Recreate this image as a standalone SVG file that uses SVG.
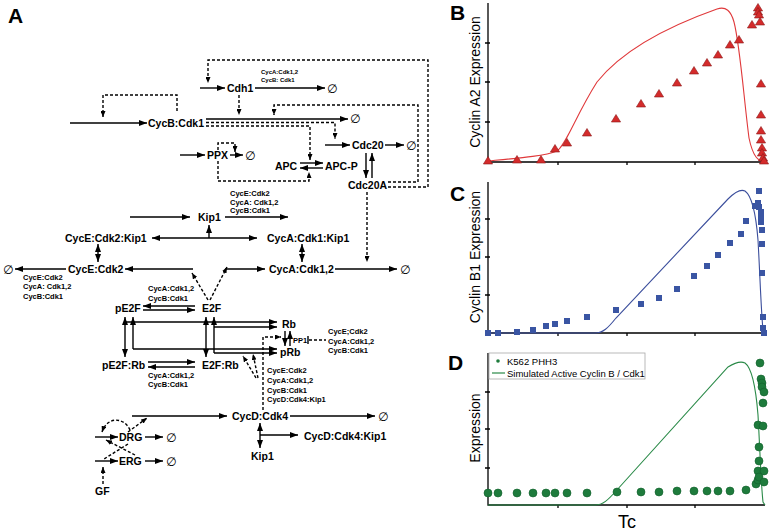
<svg xmlns="http://www.w3.org/2000/svg" xmlns:xlink="http://www.w3.org/1999/xlink" width="772" height="532" viewBox="0 0 772 532">
<style>
text{font-family:"Liberation Sans",Arial,"DejaVu Sans",sans-serif;fill:#000}
.n{font-size:10.5px;font-weight:bold}
.s{font-size:7.5px;font-weight:bold}
.xs{font-size:6px;font-weight:bold}
.e{font-size:12px}
.P{font-size:21px;font-weight:bold}
.yl{font-size:14px;text-anchor:middle}
.lg{font-size:9.5px}
.c path,.c line{fill:none;stroke:#000;stroke-width:1.4}
.c .d{stroke-dasharray:3 2}
.ar{marker-end:url(#a)}
.da{marker-end:url(#b)}
.bi{marker-start:url(#a);marker-end:url(#a)}
.ax{stroke:#000;stroke-width:1.3;fill:none}
</style>
<defs>
<marker id="a" viewBox="0 0 8 6" refX="8" refY="3" markerWidth="8" markerHeight="6" markerUnits="userSpaceOnUse" orient="auto-start-reverse"><path d="M0,0L8,3L0,6z" fill="#000"/></marker>
<marker id="b" viewBox="0 0 6 5" refX="6" refY="2.5" markerWidth="6" markerHeight="5" markerUnits="userSpaceOnUse" orient="auto-start-reverse"><path d="M0,0L6,2.5L0,5z" fill="#000"/></marker>
<path id="tri" d="M0,-4.5L4.6,3L-4.6,3Z" fill="#d42b2b" stroke="#8c1a1a" stroke-width="0.6"/>
<rect id="sq" x="-3" y="-3" width="6" height="6" fill="#3a55a3"/>
<circle id="dot" r="4" fill="#1e7b3c" stroke="#11602b" stroke-width="0.6"/>
</defs>
<rect width="772" height="532" fill="#fff"/>

<text class="P" x="8" y="23">A</text>

<g class="c" id="connectors">
<path class="d da" d="M177,111V95H103V117"/>
<path class="ar" d="M70,123H147"/>
<path class="d da" d="M428,187V60H208V83"/>
<path class="ar" d="M200,88H225"/>
<path class="ar" d="M255,88H325"/>
<path class="d da" d="M239,95V115"/>
<path class="ar" d="M206,119H348"/>
<path class="d da" d="M206,122.5H335V139"/>
<path class="d da" d="M206,126H310V160"/>
<path class="d da" d="M388,182H418V105H274V115"/>
<path class="d" d="M388,187H428"/>
<path class="ar" d="M325,145H350"/>
<path class="ar" d="M385,145H404"/>
<path class="ar" d="M366,153V178"/>
<path class="ar" d="M372,178V153"/>
<path class="ar" d="M180,155H205"/>
<path class="ar" d="M230,155H243"/>
<path class="d da" d="M218,150V143H235V152"/>
<path class="d da" d="M218,161V181H309V172"/>
<path class="ar" d="M300,163H323"/>
<path class="ar" d="M323,168H300"/>
<path class="ar" d="M130,217H190"/>
<path class="ar" d="M225,217H288"/>
<path class="bi" d="M152,238H257"/>
<path class="ar" d="M209,238V225"/>
<path class="bi" d="M98,244V262"/>
<path class="bi" d="M302,244V262"/>
<path class="ar" d="M193,269H125"/>
<path class="ar" d="M66,269H15"/>
<path class="ar" d="M225,269H265"/>
<path class="ar" d="M335,269H397"/>
<path class="d da" d="M367,192V262"/>
<path class="d da" d="M208,300L192,273"/>
<path class="d da" d="M210,300L227,267"/>
<path class="ar" d="M195,306H143"/>
<path class="ar" d="M143,310H195"/>
<path class="bi" d="M125,317V357"/>
<path class="ar" d="M125,322H277"/>
<path class="ar" d="M133,349V317"/>
<path class="ar" d="M133,349H277"/>
<path class="bi" d="M206,317V357"/>
<path class="ar" d="M214,353V317"/>
<path class="ar" d="M214,327H277"/>
<path class="ar" d="M214,353H277"/>
<path class="ar" d="M148,362H195"/>
<path class="ar" d="M195,367H148"/>
<path class="ar" d="M285,331V346"/>
<path class="ar" d="M290,346V331"/>
<path d="M308,336V344"/>
<path class="d" d="M309,340H326"/>
<path class="d da" d="M263,410V337H281"/>
<path class="d da" d="M256,378L243,356"/>
<path class="d da" d="M258,378L253,354"/>
<path class="ar" d="M132,416H227"/>
<path class="ar" d="M290,416H375"/>
<path class="bi" d="M260,423V448"/>
<path class="ar" d="M260,435H298"/>
<path class="ar" d="M95,437H118"/>
<path class="ar" d="M145,437H163"/>
<path class="ar" d="M95,461H118"/>
<path class="ar" d="M145,461H163"/>
<path class="d da" d="M128,432L147,418"/>
<path class="d da" d="M130,430C125,418 108,415 102,432"/>
<path class="d da" d="M135,455L106,440"/>
<path class="d" d="M128,444L104,459"/>
<path class="d da" d="M103,484V467"/>
</g>

<g id="n-cycb"><text class="n" x="148" y="127">CycB:Cdk1</text></g>
<g id="n-cdh1"><text class="n" x="227" y="92">Cdh1</text><text class="e" x="327" y="93">∅</text>
<text class="xs" x="261" y="74">CycA:Cdk1,2</text><text class="xs" x="261" y="82">CycB: Cdk1</text></g>
<g id="n-deg-cycb"><text class="e" x="350" y="123">∅</text></g>
<g id="n-cdc20"><text class="n" x="352" y="149">Cdc20</text><text class="e" x="406" y="150">∅</text></g>
<g id="n-cdc20a"><text class="n" x="348" y="189">Cdc20A</text></g>
<g id="n-ppx"><text class="n" x="207" y="159">PPX</text><text class="e" x="245" y="160">∅</text></g>
<g id="n-apc"><text class="n" x="275" y="170">APC</text></g>
<g id="n-apcp"><text class="n" x="325" y="170">APC-P</text></g>
<g id="n-kip1"><text class="n" x="198" y="221">Kip1</text>
<text class="s" x="230" y="196">CycE:Cdk2</text><text class="s" x="230" y="205">CycA: Cdk1,2</text><text class="s" x="230" y="213">CycB:Cdk1</text></g>
<g id="n-cyce-kip1"><text class="n" x="65" y="242">CycE:Cdk2:Kip1</text></g>
<g id="n-cyca-kip1"><text class="n" x="267" y="242">CycA:Cdk1:Kip1</text></g>
<g id="n-cyce"><text class="n" x="68" y="273">CycE:Cdk2</text><text class="e" x="3" y="274">∅</text>
<text class="s" x="23" y="280">CycE:Cdk2</text><text class="s" x="23" y="289">CycA: Cdk1,2</text><text class="s" x="23" y="299">CycB:Cdk1</text></g>
<g id="n-cyca"><text class="n" x="269" y="273">CycA:Cdk1,2</text><text class="e" x="400" y="274">∅</text></g>
<g id="n-pe2f"><text class="n" x="115" y="312">pE2F</text>
<text class="s" x="148" y="291">CycA:Cdk1,2</text><text class="s" x="148" y="301">CycB:Cdk1</text></g>
<g id="n-e2f"><text class="n" x="202" y="312">E2F</text></g>
<g id="n-rb"><text class="n" x="282" y="328">Rb</text></g>
<g id="n-prb"><text class="n" x="280" y="356">pRb</text></g>
<g id="n-pp1"><text class="s" x="293" y="343">PP1</text>
<text class="s" x="328" y="334">CycE;Cdk2</text><text class="s" x="328" y="344">CycA:Cdk1,2</text><text class="s" x="328" y="353">CycB:Cdk1</text></g>
<g id="n-pe2frb"><text class="n" x="102" y="369">pE2F:Rb</text>
<text class="s" x="148" y="378">CycA:Cdk1,2</text><text class="s" x="148" y="387">CycB:Cdk1</text></g>
<g id="n-e2frb"><text class="n" x="202" y="369">E2F:Rb</text>
<text class="s" x="267" y="373">CycE:Cdk2</text><text class="s" x="267" y="383">CycA:Cdk1,2</text><text class="s" x="267" y="393">CycB:Cdk1</text><text class="s" x="267" y="402">CycD:Cdk4:Kip1</text></g>
<g id="n-cycd"><text class="n" x="232" y="420">CycD:Cdk4</text><text class="e" x="378" y="421">∅</text></g>
<g id="n-cycd-kip1"><text class="n" x="304" y="440">CycD:Cdk4:Kip1</text></g>
<g id="n-kip1b"><text class="n" x="251" y="460">Kip1</text></g>
<g id="n-drg"><text class="n" x="119" y="441">DRG</text><text class="e" x="166" y="442">∅</text></g>
<g id="n-erg"><text class="n" x="119" y="465">ERG</text><text class="e" x="166" y="466">∅</text></g>
<g id="n-gf"><text class="n" x="95" y="495">GF</text></g>

<!-- Panel B -->
<g id="panel-b">
<text class="P" x="450" y="20">B</text>
<path class="ax" d="M488,3V162H765M485,43H490M485,82H490M485,122H490M558,162V165M627,162V165M695,162V165"/>
<text class="yl" transform="translate(480,82) rotate(-90)">Cyclin A2 Expression</text>
<path d="M488,161C520,158 545,156 557,151C566,145 576,115 597,82C617,57 652,32 717,9C726,6 731,11 734,22C740,45 744,100 749,138C753,157 758,161 765,162" fill="none" stroke="#e0393b" stroke-width="1.1"/>
<g>
<use xlink:href="#tri" x="488" y="161"/><use xlink:href="#tri" x="517" y="160"/><use xlink:href="#tri" x="541" y="160"/><use xlink:href="#tri" x="555" y="149"/><use xlink:href="#tri" x="567" y="143"/><use xlink:href="#tri" x="587" y="133"/><use xlink:href="#tri" x="616" y="119"/><use xlink:href="#tri" x="641" y="104"/><use xlink:href="#tri" x="659" y="94"/><use xlink:href="#tri" x="677" y="83"/><use xlink:href="#tri" x="694" y="71"/><use xlink:href="#tri" x="707" y="63"/><use xlink:href="#tri" x="718" y="55"/><use xlink:href="#tri" x="730" y="45"/><use xlink:href="#tri" x="739" y="40"/><use xlink:href="#tri" x="752" y="25"/><use xlink:href="#tri" x="758" y="8"/><use xlink:href="#tri" x="758" y="12"/><use xlink:href="#tri" x="759" y="15"/><use xlink:href="#tri" x="760" y="22"/><use xlink:href="#tri" x="761" y="84"/><use xlink:href="#tri" x="761" y="115"/><use xlink:href="#tri" x="761" y="131"/><use xlink:href="#tri" x="761" y="140"/><use xlink:href="#tri" x="762" y="148"/><use xlink:href="#tri" x="762" y="153"/><use xlink:href="#tri" x="763" y="158"/><use xlink:href="#tri" x="764" y="161"/>
</g>
</g>

<!-- Panel C -->
<g id="panel-c">
<text class="P" x="450" y="201">C</text>
<path class="ax" d="M488,182V333H765M485,219H490M485,257H490M485,295H490M558,333V336M627,333V336M695,333V336"/>
<text class="yl" transform="translate(480,257) rotate(-90)">Cyclin B1 Expression</text>
<path d="M488,333L595,333C603,333 608,328 616,318L728,199C736,191 741,189 745,191C752,196 756,215 758,240C760,275 761,310 763,330L765,333" fill="none" stroke="#3b4e9c" stroke-width="1.1"/>
<g>
<use xlink:href="#sq" x="488" y="333"/><use xlink:href="#sq" x="498" y="333"/><use xlink:href="#sq" x="517" y="332"/><use xlink:href="#sq" x="533" y="330"/><use xlink:href="#sq" x="546" y="326"/><use xlink:href="#sq" x="555" y="324"/><use xlink:href="#sq" x="567" y="321"/><use xlink:href="#sq" x="587" y="317"/><use xlink:href="#sq" x="616" y="310"/><use xlink:href="#sq" x="641" y="304"/><use xlink:href="#sq" x="659" y="298"/><use xlink:href="#sq" x="677" y="289"/><use xlink:href="#sq" x="694" y="276"/><use xlink:href="#sq" x="707" y="266"/><use xlink:href="#sq" x="718" y="255"/><use xlink:href="#sq" x="730" y="243"/><use xlink:href="#sq" x="741" y="234"/><use xlink:href="#sq" x="746" y="221"/><use xlink:href="#sq" x="755" y="206"/><use xlink:href="#sq" x="758" y="203"/><use xlink:href="#sq" x="759" y="207"/><use xlink:href="#sq" x="761" y="212"/><use xlink:href="#sq" x="761" y="217"/><use xlink:href="#sq" x="761" y="222"/><use xlink:href="#sq" x="762" y="230"/><use xlink:href="#sq" x="762" y="244"/><use xlink:href="#sq" x="762" y="273"/><use xlink:href="#sq" x="763" y="317"/><use xlink:href="#sq" x="763" y="328"/><use xlink:href="#sq" x="764" y="333"/><use xlink:href="#sq" x="759" y="191"/>
</g>
</g>

<!-- Panel D -->
<g id="panel-d">
<text class="P" x="448" y="370">D</text>
<path class="ax" d="M488,353V505H765M485,392H490M485,429H490M485,468H490M558,505V508M627,505V508M695,505V508"/>
<text class="yl" transform="translate(480,428) rotate(-90)">Expression</text>
<text x="627" y="528" font-size="18" text-anchor="middle">Tc</text>
<path d="M488,505L595,505C603,505 608,500 616,491L728,367C736,362 741,361 745,363C752,368 756,390 758,415C760,450 761,485 763,502L765,505" fill="none" stroke="#2a8a48" stroke-width="1.1"/>
<g>
<use xlink:href="#dot" x="488" y="493"/><use xlink:href="#dot" x="498" y="493"/><use xlink:href="#dot" x="517" y="493"/><use xlink:href="#dot" x="533" y="493"/><use xlink:href="#dot" x="546" y="493"/><use xlink:href="#dot" x="555" y="493"/><use xlink:href="#dot" x="567" y="493"/><use xlink:href="#dot" x="587" y="493"/><use xlink:href="#dot" x="617" y="492"/><use xlink:href="#dot" x="641" y="492"/><use xlink:href="#dot" x="659" y="492"/><use xlink:href="#dot" x="677" y="491"/><use xlink:href="#dot" x="694" y="491"/><use xlink:href="#dot" x="707" y="491"/><use xlink:href="#dot" x="718" y="491"/><use xlink:href="#dot" x="730" y="491"/><use xlink:href="#dot" x="746" y="490"/><use xlink:href="#dot" x="756" y="484"/><use xlink:href="#dot" x="758" y="480"/><use xlink:href="#dot" x="760" y="363"/><use xlink:href="#dot" x="761" y="379"/><use xlink:href="#dot" x="762" y="383"/><use xlink:href="#dot" x="762" y="387"/><use xlink:href="#dot" x="764" y="392"/><use xlink:href="#dot" x="763" y="403"/><use xlink:href="#dot" x="758" y="425"/><use xlink:href="#dot" x="763" y="426"/><use xlink:href="#dot" x="759" y="447"/><use xlink:href="#dot" x="759" y="461"/><use xlink:href="#dot" x="758" y="471"/><use xlink:href="#dot" x="764" y="471"/><use xlink:href="#dot" x="759" y="477"/><use xlink:href="#dot" x="764" y="482"/>
</g>
<g id="legend">
<rect x="489" y="353" width="156" height="26" fill="#fff" stroke="#a8a8a8" stroke-width="0.8"/>
<circle cx="498" cy="361" r="1.8" fill="#1e7b3c"/>
<text class="lg" x="507" y="364.5">K562 PHH3</text>
<path d="M492,373H505" stroke="#2a8a48" stroke-width="1.2"/>
<text class="lg" x="507" y="376.5">Simulated Active Cyclin B / Cdk1</text>
</g>
</g>
</svg>
